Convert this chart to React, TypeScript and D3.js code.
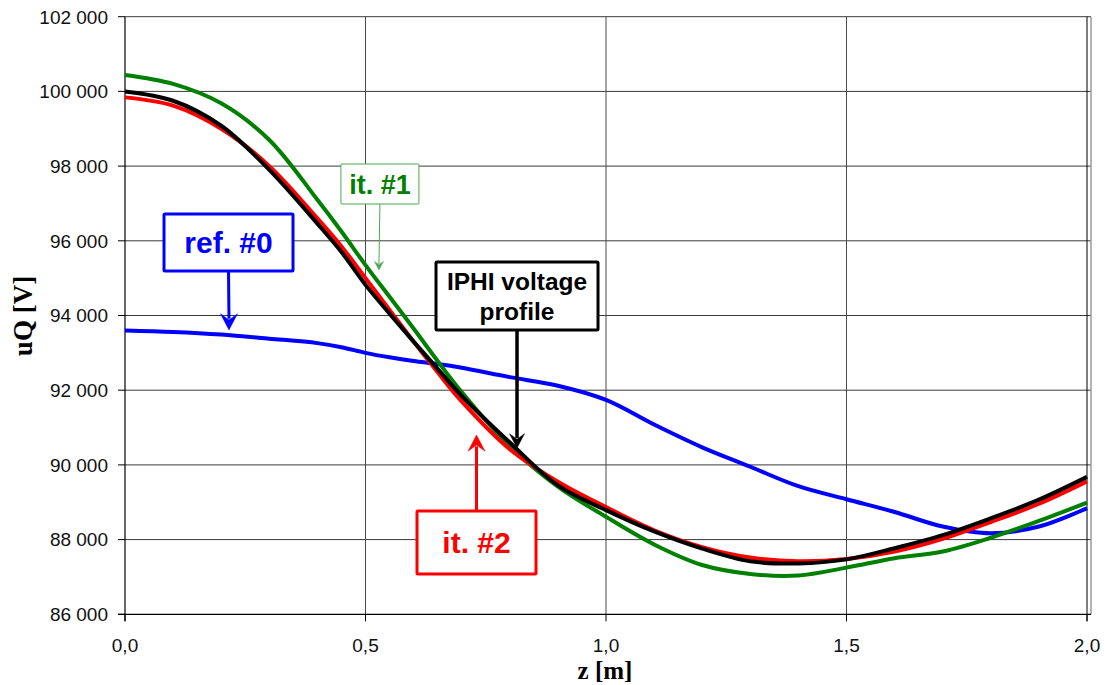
import React from "react";
import * as d3 from "d3";

const zValues = [0, 0.1, 0.2, 0.3, 0.4, 0.45, 0.5, 0.55, 0.6, 0.65, 0.7, 0.8, 0.9, 1.0, 1.1, 1.2, 1.3, 1.4, 1.5, 1.6, 1.7, 1.8, 1.9, 2.0];

const refSeries = [93600, 93560, 93490, 93380, 93260, 93150, 93000, 92880, 92780, 92700, 92600, 92350, 92120, 91740, 91080, 90470, 89950, 89430, 89080, 88740, 88350, 88170, 88350, 88840];
const it1Series = [100440, 100200, 99680, 98700, 97100, 96250, 95350, 94500, 93650, 92780, 91950, 90500, 89420, 88610, 87870, 87320, 87080, 87040, 87250, 87500, 87680, 88050, 88500, 88990];
const it2Series = [99840, 99620, 99000, 98000, 96600, 95850, 95000, 94150, 93300, 92480, 91700, 90420, 89550, 88870, 88250, 87800, 87520, 87420, 87480, 87680, 88020, 88470, 88960, 89560];
const iphiSeries = [100000, 99750, 99080, 97900, 96460, 95700, 94820, 94050, 93300, 92570, 91850, 90600, 89450, 88790, 88220, 87760, 87420, 87360, 87470, 87770, 88120, 88570, 89070, 89680];

const yTicks = [86000, 88000, 90000, 92000, 94000, 96000, 98000, 100000, 102000];
const xTicks = [0, 0.5, 1.0, 1.5, 2.0];

const seriesList = [
  { name: "ref. #0", values: refSeries, color: "#0000FF" },
  { name: "it. #1", values: it1Series, color: "#008000" },
  { name: "it. #2", values: it2Series, color: "#FF0000" },
  { name: "IPHI voltage profile", values: iphiSeries, color: "#000000" },
];

// annotation: tip and box centre in data units
const annotations = [
  { lines: ["ref. #0"], color: "#0000FF", border: "#0000FF", bw: 3, fs: 30, tipZ: 0.2162, tipV: 93612, boxZ: 0.2152, boxV: 95955, w: 129, h: 57, head: 17, shaft: 3 },
  { lines: ["it. #1"], color: "#008000", border: "#4CA64C", bw: 1, fs: 27, tipZ: 0.528, tipV: 95218, boxZ: 0.53, boxV: 97521, w: 78, h: 40, head: 9, shaft: 1 },
  { lines: ["IPHI voltage", "profile"], color: "#000000", border: "#000000", bw: 3, fs: 24.5, tipZ: 0.815, tipV: 90452, boxZ: 0.815, boxV: 94522, w: 162, h: 68, head: 15, shaft: 3.5 },
  { lines: ["it. #2"], color: "#FF0000", border: "#FF0000", bw: 3, fs: 30, tipZ: 0.7308, tipV: 90800, boxZ: 0.7308, boxV: 87922, w: 119, h: 63, head: 17, shaft: 3 },
];

const locale = d3.formatLocale({ decimal: ",", thousands: " ", grouping: [3], currency: ["", ""] });
const fmtY = locale.format(",d");
const fmtX = locale.format(".1f");

export default function App() {
  const W = 1107, H = 685;
  const x = d3.scaleLinear().domain([0, 2]).range([125, 1087]);
  const y = d3.scaleLinear().domain([86000, 102000]).range([614.3, 16.7]);
  const line = d3
    .line<number>()
    .x((_, i) => x(zValues[i]))
    .y((d) => y(d))
    .curve(d3.curveCatmullRom.alpha(0.5));

  const left = x(0), right = x(2), top = y(102000), bottom = y(86000);

  return (
    <svg width={W} height={H} style={{ position: "absolute", left: 0, top: 0, background: "#fff" }}>
      <rect x={0} y={0} width={W} height={H} fill="#fff" />
      {/* grid */}
      {yTicks.filter((t) => t > 86000).map((t) => (
        <line key={"gy" + t} x1={left} x2={right + 4} y1={y(t)} y2={y(t)} stroke="#3a3a3a" strokeWidth={1} />
      ))}
      {xTicks.filter((t) => t > 0 && t < 2).map((t) => (
        <line key={"gx" + t} x1={x(t)} x2={x(t)} y1={top} y2={bottom} stroke="#4a4a4a" strokeWidth={1} />
      ))}
      {/* right border and shadow */}
      <line x1={right} x2={right} y1={top} y2={bottom + 7} stroke="#000" strokeWidth={1} />
      <line x1={right + 4} x2={right + 4} y1={top} y2={bottom} stroke="#9a9a9a" strokeWidth={1.5} />
      {/* axes */}
      <line x1={left} x2={left} y1={top} y2={bottom + 7} stroke="#000" strokeWidth={1.2} />
      <line x1={left - 7} x2={right + 4} y1={bottom} y2={bottom} stroke="#000" strokeWidth={1.2} />
      {yTicks.map((t) => (
        <g key={"ty" + t}>
          <line x1={left - 7} x2={left} y1={y(t)} y2={y(t)} stroke="#000" strokeWidth={1} />
          <text x={108} y={y(t)} dy="0.36em" textAnchor="end" fontFamily="Liberation Sans, Arial, sans-serif" fontSize={19} fill="#111">
            {fmtY(t)}
          </text>
        </g>
      ))}
      {xTicks.map((t) => (
        <g key={"tx" + t}>
          <line x1={x(t)} x2={x(t)} y1={bottom} y2={bottom + 7} stroke="#000" strokeWidth={1} />
          <text x={x(t)} y={652} textAnchor="middle" fontFamily="Liberation Sans, Arial, sans-serif" fontSize={19} fill="#111">
            {fmtX(t)}
          </text>
        </g>
      ))}
      {/* axis titles */}
      <text x={605} y={679} textAnchor="middle" fontFamily="Liberation Serif, Times New Roman, serif" fontWeight="bold" fontSize={25} fill="#000">
        z [m]
      </text>
      <text transform="translate(32,316) rotate(-90)" textAnchor="middle" fontFamily="Liberation Serif, Times New Roman, serif" fontWeight="bold" fontSize={27} fill="#000">
        uQ [V]
      </text>
      {/* series */}
      {seriesList.map((s) => (
        <path key={s.name} d={line(s.values) || ""} fill="none" stroke={s.color} strokeWidth={4} strokeLinejoin="round" />
      ))}
      {/* annotations */}
      {annotations.map((a, i) => {
        const tx = x(a.tipZ), ty = y(a.tipV);
        const cx = x(a.boxZ), cy = y(a.boxV);
        const down = ty > cy;
        const edge = down ? cy + a.h / 2 : cy - a.h / 2;
        const hw = a.head / 2;
        const hl = a.head * 0.95;
        const dir = down ? -1 : 1;
        const head = `M${tx},${ty} L${tx - hw},${ty + dir * hl} L${tx},${ty + dir * hl * 0.62} L${tx + hw},${ty + dir * hl} Z`;
        const lh = a.fs * 1.2;
        const firstBase = cy - ((a.lines.length - 1) * lh) / 2 + a.fs * 0.36;
        return (
          <g key={i}>
            <line x1={cx} x2={tx} y1={edge} y2={ty + dir * hl * 0.7} stroke={a.border} strokeWidth={a.shaft} />
            <path d={head} fill={a.border} stroke={a.border} strokeWidth={0.5} />
            <rect x={cx - a.w / 2} y={cy - a.h / 2} width={a.w} height={a.h} fill="#fff" stroke={a.border} strokeWidth={a.bw} rx={1} />
            {a.lines.map((l, j) => (
              <text key={j} x={cx} y={firstBase + j * lh} textAnchor="middle" fontFamily="Liberation Sans, Arial, sans-serif" fontWeight="bold" fontSize={a.fs} fill={a.color}>
                {l}
              </text>
            ))}
          </g>
        );
      })}
    </svg>
  );
}
